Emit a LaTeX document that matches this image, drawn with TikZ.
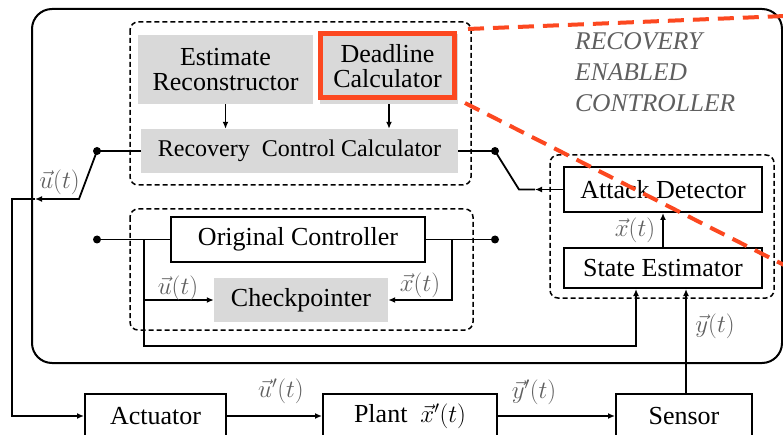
\documentclass[tikz,border=0pt]{standalone}
\usepackage{fontspec}
\setmainfont{Liberation Serif}
\usetikzlibrary{arrows.meta}
\definecolor{boxgray}{RGB}{217,217,217}
\definecolor{redline}{RGB}{252,72,32}
\definecolor{labgray}{RGB}{95,95,95}
\begin{document}
\begin{tikzpicture}[x=1pt,y=-1pt,
  every node/.style={font=\fontsize{26}{25}\selectfont},
  blk/.style={draw, line width=2pt, inner sep=0pt, align=center},
  gblk/.style={fill=boxgray, inner sep=0pt, align=center},
  conn/.style={line width=1.8pt},
  arr/.style={line width=1.8pt, -{Latex[length=7pt,width=6pt]}},
  dbox/.style={line width=1.5pt, dash pattern=on 5pt off 3pt, rounded corners=8pt},
  rdash/.style={draw=redline, line width=4pt, dash pattern=on 16pt off 9pt},
  lab/.style={text=labgray, inner sep=0pt, font=\fontsize{27}{27}\selectfont},
  ttl/.style={text=labgray, inner sep=0pt, anchor=base west, font=\itshape\fontsize{25.5}{25}\selectfont},
  dotc/.style={circle, fill=black, inner sep=0pt, minimum size=8pt},
]
\useasboundingbox (0,0) rectangle (783,435);
\clip (0,0) rectangle (783,435);

% outer controller frame
\draw[line width=2pt, rounded corners=20pt] (32,9) rectangle (782,363);

% dashed groups
\draw[dbox] (130,22) rectangle (471,185);
\draw[dbox] (130,209) rectangle (473,330);
\draw[dbox] (550,155) rectangle (774,298);

% blocks
\node[gblk, minimum width=175pt, minimum height=69pt] (est) at (225.5,69.5) {Estimate\\Reconstructor};
\node[gblk, minimum width=138pt, minimum height=70pt] (deadbg) at (389,69) {};
\node[draw=redline, line width=5pt, fill=boxgray, minimum width=134pt, minimum height=63.5pt, inner sep=0pt, align=center] (dead) at (387.5,65.75) {Deadline\\Calculator};
\node[gblk, minimum width=317pt, minimum height=44pt, font=\fontsize{24}{25}\selectfont] (rcc) at (299.5,151) {Recovery\ \ Control\ Calculator};
\node[blk, minimum width=254pt, minimum height=45pt] (orig) at (298,239.5) {Original Controller};
\node[gblk, minimum width=174pt, minimum height=44pt] (chk) at (301,300) {Checkpointer};
\node[blk, minimum width=198pt, minimum height=45pt] (att) at (663,189.5) {Attack Detector};
\node[blk, minimum width=198pt, minimum height=40pt] (se) at (663,268) {State Estimator};
\node[blk, minimum width=141pt, minimum height=44pt] (act) at (155.5,416) {Actuator};
\node[blk, minimum width=174pt, minimum height=44pt] (plant) at (410,416) {Plant\ \ {\fontsize{27}{27}\selectfont$\vec{x}'(t)$}};
\node[blk, minimum width=136pt, minimum height=44pt] (sensor) at (684,416) {Sensor};

% title
\node[ttl] (t1) at (575,50) {RECOVERY};
\node[ttl] (t2) at (575,81) {ENABLED};
\node[ttl] (t3) at (575,112) {CONTROLLER};

% switch dots
\node[dotc] (d1) at (97,151) {};
\node[dotc] (d2) at (495,151) {};
\node[dotc] (d3) at (97,239.5) {};
\node[dotc] (d4) at (495,239.5) {};

% coordinates
\coordinate (s1) at (79,199);
\coordinate (a1) at (35,199);
\coordinate (c1) at (12,199);
\coordinate (s2) at (519,189.5);
\coordinate (a2) at (535,189.5);
\coordinate (b1) at (144,239.5);
\coordinate (b2) at (452,239.5);
\coordinate (e1) at (636,346);
\coordinate (sn) at (686,394);

% connectors
\draw[arr] (est.south) -- (est.south |- rcc.north);
\draw[arr] (deadbg.south) -- (deadbg.south |- rcc.north);
\draw[conn] (rcc.west) -- (d1.center);
\draw[arr] (d1.center) -- (s1) -- (a1);
\draw[arr] (a1) -- (c1) |- (act.west);
\draw[conn] (rcc.east) -- (d2.center);
\draw[arr] (att.west) -- (a2);
\draw[conn] (a2) -- (s2) -- (d2.center);
\draw[arr] (se.north) -- (att.south);
\draw[conn] (d3.center) -- (orig.west);
\draw[arr] (b1) |- (e1) -- (e1 |- se.south);
\draw[arr] (b1 |- chk.west) -- (chk.west);
\draw[conn] (orig.east) -- (d4.center);
\draw[arr] (b2) |- (chk.east);
\draw[arr] (act.east) -- (plant.west);
\draw[arr] (plant.east) -- (sensor.west);
\draw[arr] (sn) -- (sn |- se.south);

% labels
\node[lab] (lu1) at (59.5,182) {$\vec{u}(t)$};
\node[lab] (lu2) at (178,288) {$\vec{u}(t)$};
\node[lab] (lx1) at (420,285) {$\vec{x}(t)$};
\node[lab] (lx2) at (635,230) {$\vec{x}(t)$};
\node[lab] (ly1) at (715,326) {$\vec{y}(t)$};
\node[lab] (lu3) at (281,391) {$\vec{u}'(t)$};
\node[lab] (ly2) at (534,392) {$\vec{y}'(t)$};

% red dashed zoom lines
\draw[rdash] (468,29) -- (785,16);
\draw[rdash] (465,103) -- (790,268);
\end{tikzpicture}
\end{document}
